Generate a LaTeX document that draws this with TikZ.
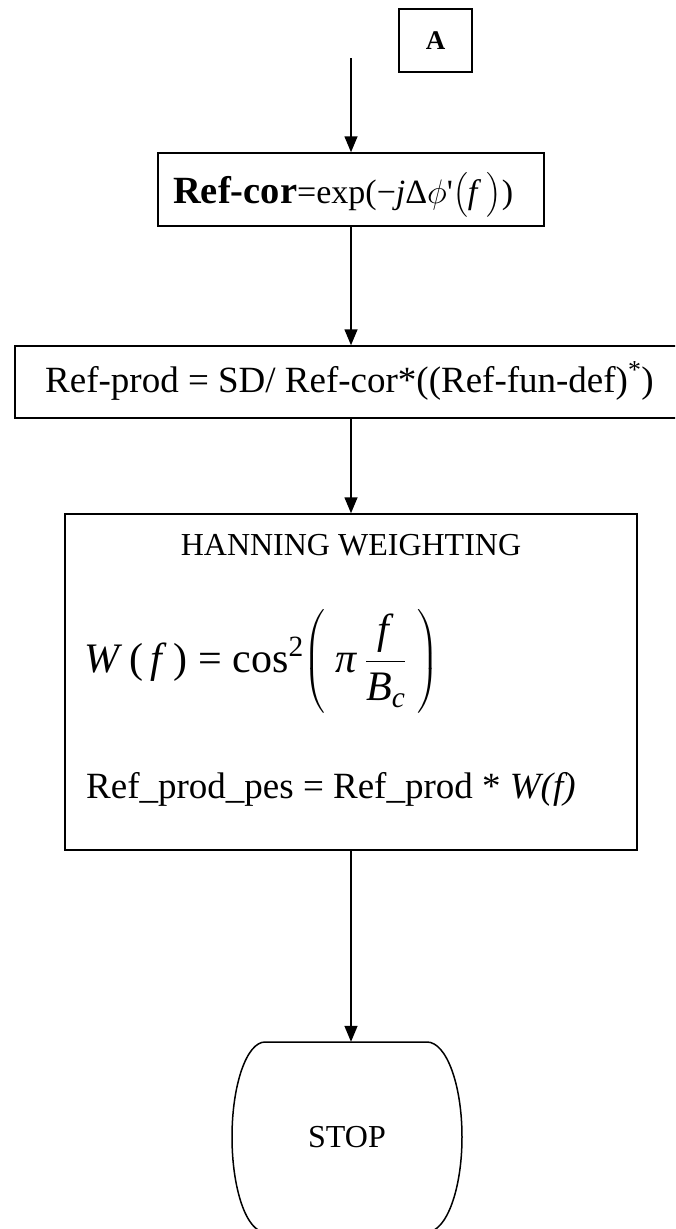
\RequirePackage{fix-cm}
\documentclass[tikz,border=0pt]{standalone}
\usepackage{amsmath}
\usepackage{fontspec}
\setmainfont{Liberation Serif}
\newfontfamily\plainrm{Liberation Serif}
\usetikzlibrary{arrows.meta}
\begin{document}
\begin{tikzpicture}[x=1pt,y=-1pt,
  box/.style={draw, line width=1.5pt, inner sep=0pt},
  arr/.style={-{Triangle[length=16pt,width=13pt]}, line width=1.5pt},
  txt/.style={inner sep=0pt, font=\fontsize{37}{44}\selectfont},
  small/.style={inner sep=0pt, font=\fontsize{32}{38}\selectfont}]
\useasboundingbox (0,0) rectangle (675,1229);
\clip (0,0) rectangle (675,1229);
% boxes
\node[box, minimum width=73pt, minimum height=63pt, font=\fontsize{27}{32}\selectfont\bfseries] (A) at (435.5,40.5) {A};
\node[box, minimum width=386pt, minimum height=73pt] (b1) at (351,189.5) {};
\node[txt, anchor=base west] (t1) at (173,203) {{\fontsize{38.5}{44}\selectfont\textbf{Ref-cor}}{\fontsize{34}{40}\selectfont=exp(−\textit{j}Δ$\phi${\plainrm '}$\big($\textit{f}\,$\big)$)}};
\node[box, minimum width=672pt, minimum height=72pt] (b2) at (351,382) {};
\node[txt, anchor=base west] (t2) at (45,392) {Ref-prod = SD/ Ref-cor*((Ref-fun-def)\textsuperscript{*})};
\node[box, minimum width=572pt, minimum height=336pt] (b3) at (351,682) {};
\node[small, anchor=base] (t3) at (351,555) {HANNING WEIGHTING};
\node[inner sep=0pt, anchor=base west, font=\fontsize{42}{50}\selectfont] (t4) at (84,672)
  {\textit{W}\,(\,\textit{f}\,) = cos\textsuperscript{2}$\left(\ \text{\textit{π}}\,\dfrac{\text{\textit{f}}}{\text{\textit{B}}_{\text{\textit{c}}}}\ \right)$};
\node[txt, anchor=base west] (t5) at (86,798) {Ref\_prod\_pes = Ref\_prod * \textit{W(f)}};
% stop terminal
\node[inner sep=0pt, minimum width=230pt, minimum height=190pt, font=\fontsize{32}{38}\selectfont] (stop) at (347,1137) {STOP};
\draw[line width=1.5pt] (265,1042) -- (427,1042)
  arc[start angle=90, end angle=-90, x radius=35pt, y radius=95pt]
  -- (265,1232)
  arc[start angle=270, end angle=90, x radius=33pt, y radius=95pt] -- cycle;
% connectors
\coordinate (a0) at (351,58);
\draw[arr] (a0) -- (b1.north);
\draw[arr] (b1.south) -- (b2.north);
\draw[arr] (b2.south) -- (b3.north);
\draw[arr] (b3.south) -- (b3.south |- stop.north);
\end{tikzpicture}
\end{document}
